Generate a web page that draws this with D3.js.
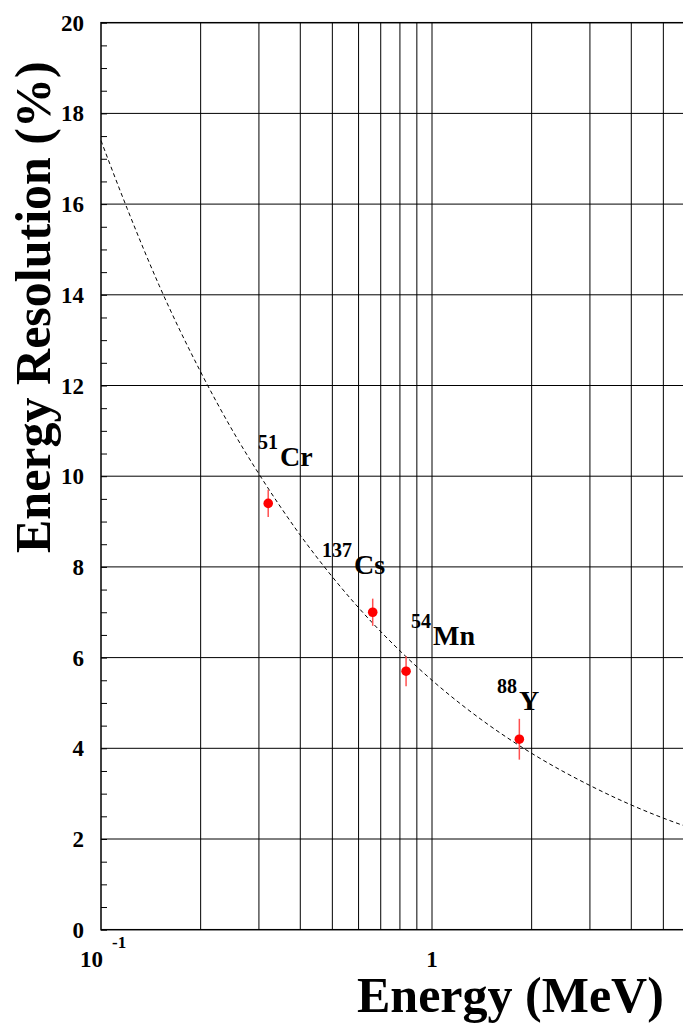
<!DOCTYPE html>
<html>
<head>
<meta charset="utf-8">
<script src="https://cdn.jsdelivr.net/npm/d3@7"></script>
<style>
  html, body { margin: 0; padding: 0; background: #fff; }
  svg { display: block; }
  text { font-family: "Liberation Serif", "Times New Roman", serif; font-weight: bold; fill: #000; }
</style>
</head>
<body>
<script>
// ---- data ----
const sources = ["51Cr", "137Cs", "54Mn", "88Y"];
const isotopeMass = ["51", "137", "54", "88"];
const isotopeName = ["Cr", "Cs", "Mn", "Y"];
const energies = [0.320, 0.662, 0.835, 1.836];          // MeV
const resolutions = [9.4, 7.0, 5.7, 4.2];               // %
const resolutionErrors = [0.3, 0.3, 0.33, 0.45];        // %
// dashed fit curve
const fitEnergies = [0.1, 0.12, 0.15, 0.2, 0.25, 0.3, 0.4, 0.5, 0.6, 0.8, 1, 1.5, 2, 3, 4, 5, 6];
const fitResolutions = [17.4, 15.9, 14.2, 12.3, 11.0, 10.05, 8.7, 7.78, 7.1, 6.15, 5.5, 4.49, 3.89, 3.18, 2.75, 2.46, 2.25];
// axes
const yTicks = [0, 2, 4, 6, 8, 10, 12, 14, 16, 18, 20];
const xGrid = [0.2, 0.3, 0.4, 0.5, 0.6, 0.7, 0.8, 0.9, 1, 2, 3, 4, 5];
const xDomain = [0.1, 6];
const yDomain = [0, 20];

// ---- layout ----
const W = 683, H = 1028;
const pLeft = 101, pTop = 22.7, pBottom = 929.7;
const decade = 331;
const pRight = pLeft + decade * Math.log10(xDomain[1] / xDomain[0]);

const svg = d3.select("body").append("svg").attr("width", W).attr("height", H);

const x = d3.scaleLog().domain(xDomain).range([pLeft, pRight]);
const y = d3.scaleLinear().domain(yDomain).range([pBottom, pTop]);

// grid
const grid = svg.append("g").attr("stroke", "#000").attr("stroke-width", 1).attr("fill", "none");
grid.selectAll("line.v").data(xGrid).join("line").attr("class", "v")
  .attr("x1", d => x(d)).attr("x2", d => x(d)).attr("y1", pTop).attr("y2", pBottom);
grid.selectAll("line.h").data(yTicks.filter(d => d > 0 && d < 20)).join("line").attr("class", "h")
  .attr("x1", pLeft).attr("x2", pRight).attr("y1", d => y(d)).attr("y2", d => y(d));

// frame
svg.append("rect").attr("x", pLeft).attr("y", pTop).attr("width", pRight - pLeft).attr("height", pBottom - pTop)
  .attr("fill", "none").attr("stroke", "#000").attr("stroke-width", 1.5);

// y axes (left & right) with minor ticks
const yAxisL = d3.axisRight(y).tickValues(d3.range(0, 20.01, 0.5)).tickSize(6).tickFormat("");
const gL = svg.append("g").attr("transform", `translate(${pLeft},0)`).call(yAxisL);
gL.select(".domain").remove();
const yAxisR = d3.axisLeft(y).tickValues(d3.range(0, 20.01, 0.5)).tickSize(6).tickFormat("");
const gR = svg.append("g").attr("transform", `translate(${pRight},0)`).call(yAxisR);
gR.select(".domain").remove();

// y tick labels
svg.append("g").selectAll("text").data(yTicks).join("text")
  .attr("x", 84).attr("y", d => y(d) + 8)
  .attr("text-anchor", "end").attr("font-size", 23).text(d => d);

// x tick labels
svg.append("text").attr("x", x(1)).attr("y", 967).attr("text-anchor", "middle").attr("font-size", 23).text("1");
svg.append("text").attr("x", 103).attr("y", 967).attr("text-anchor", "end").attr("font-size", 23).text("10");
svg.append("text").attr("x", 112).attr("y", 948).attr("font-size", 17).text("-1");

// axis titles
svg.append("text").attr("x", 357).attr("y", 1012).attr("font-size", 50).text("Energy (MeV)");
svg.append("text").attr("transform", "translate(50,553) rotate(-90)").attr("font-size", 50).text("Energy Resolution (%)");

// fit curve
const line = d3.line().x(d => x(d[0])).y(d => y(d[1])).curve(d3.curveMonotoneX);
svg.append("path").datum(fitEnergies.map((e, i) => [e, fitResolutions[i]]))
  .attr("d", line).attr("fill", "none").attr("stroke", "#000").attr("stroke-width", 1)
  .attr("stroke-dasharray", "4,3");

// data points
const pts = svg.append("g");
pts.selectAll("line").data(energies).join("line")
  .attr("x1", d => x(d)).attr("x2", d => x(d))
  .attr("y1", (d, i) => y(resolutions[i] - resolutionErrors[i]))
  .attr("y2", (d, i) => y(resolutions[i] + resolutionErrors[i]))
  .attr("stroke", "#ff5050").attr("stroke-width", 1.5);
pts.selectAll("circle").data(energies).join("circle")
  .attr("cx", d => x(d)).attr("cy", (d, i) => y(resolutions[i])).attr("r", 4.8)
  .attr("fill", "#ff0000");

// labels
const labelPos = [[258, 466], [322, 574], [411, 645], [497, 710]];
const lab = svg.append("g");
sources.forEach((s, i) => {
  const t = lab.append("text").attr("x", labelPos[i][0]).attr("y", labelPos[i][1]);
  t.append("tspan").attr("font-size", 20).attr("dy", -17).text(isotopeMass[i]);
  t.append("tspan").attr("font-size", 28).attr("dy", 17).attr("dx", 2).text(isotopeName[i]);
});
</script>
</body>
</html>
